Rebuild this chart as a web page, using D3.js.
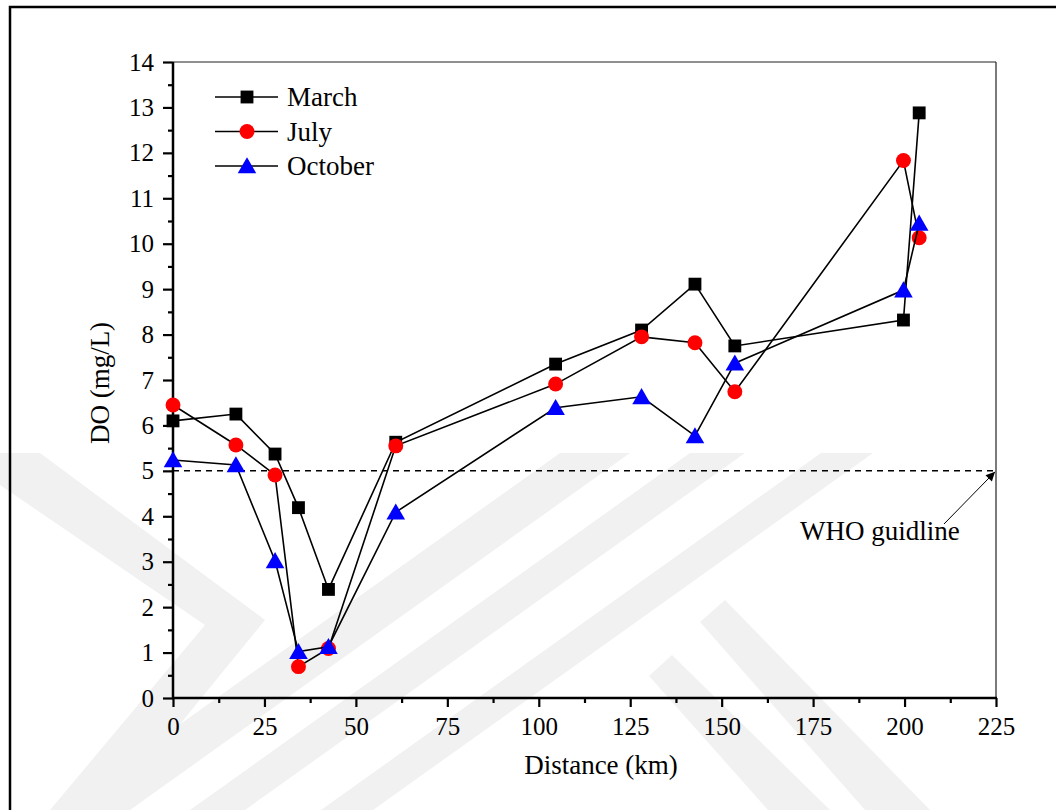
<!DOCTYPE html>
<html>
<head>
<meta charset="utf-8">
<script src="https://cdn.jsdelivr.net/npm/d3@7"></script>
<style>
  body { margin: 0; background: #fff; }
  svg { display: block; }
  svg text { font-family: "Liberation Serif", "Times New Roman", serif; fill: #000; }
</style>
</head>
<body>
<div id="chart"></div>
<script>
// Sampling stations along the river (km) and DO readings (mg/L)
const distance = [0, 17.2, 27.9, 34.3, 42.5, 60.9, 104.6, 128.1, 142.7, 153.6, 199.7, 204.0];
const march    = [6.10, 6.25, 5.37, 4.19, 2.39, 5.63, 7.35, 8.10, 9.11, 7.75, 8.32, 12.88];
const july     = [6.45, 5.57, 4.91, 0.69, 1.09, 5.55, 6.91, 7.95, 7.82, 6.74, 11.83, 10.13];
const october  = [5.24, 5.13, 3.02, 1.02, 1.13, 4.09, 6.39, 6.63, 5.77, 7.37, 8.98, 10.45];
const seriesNames = ['March', 'July', 'October'];
const xTicks = [0, 25, 50, 75, 100, 125, 150, 175, 200, 225];
const yTicks = [0, 1, 2, 3, 4, 5, 6, 7, 8, 9, 10, 11, 12, 13, 14];
const guideline = 5;

const width = 1056, height = 810;
const margin = { top: 62, right: 60, bottom: 112, left: 173 };

const svg = d3.select('#chart')
    .append('svg')
    .attr('width', width)
    .attr('height', height);

// faint background watermark bands
const wm = [
    [[40,453],[265,620],[110,810],[50,810],[205,625],[0,485],[0,453]],
    [[560,453],[630,453],[130,810],[60,810]],
    [[690,453],[745,453],[245,810],[190,810]],
    [[821,453],[873,453],[373,810],[321,810]],
    [[700,622],[725,600],[930,810],[865,810]],
    [[649,676],[672,655],[830,810],[768,810]]
];
svg.append('g')
    .selectAll('polygon')
    .data(wm)
    .enter()
    .append('polygon')
    .attr('points', d => d.map(p => p.join(',')).join(' '))
    .attr('fill', '#f1f1f1');

// outer frame
svg.append('rect')
    .attr('x', 10).attr('y', 7)
    .attr('width', 1100).attr('height', 900)
    .attr('fill', 'none')
    .attr('stroke', '#000')
    .attr('stroke-width', 2.5);

const x = d3.scaleLinear().domain([0, 225]).range([margin.left, width - margin.right]);
const y = d3.scaleLinear().domain([0, 14]).range([height - margin.bottom, margin.top]);

// top and right frame lines
svg.append('line')
    .attr('x1', x(0)).attr('x2', x(225))
    .attr('y1', y(14)).attr('y2', y(14))
    .attr('stroke', '#222').attr('stroke-width', 1.2);
svg.append('line')
    .attr('x1', x(225)).attr('x2', x(225))
    .attr('y1', y(14)).attr('y2', y(0))
    .attr('stroke', '#222').attr('stroke-width', 1.2);

// x axis
const xAxis = svg.append('g')
    .attr('transform', `translate(0,${y(0)})`)
    .call(d3.axisBottom(x).tickValues(xTicks).tickSize(9).tickPadding(10).tickFormat(d3.format('d')));
svg.append('g')
    .attr('transform', `translate(0,${y(0)})`)
    .call(d3.axisBottom(x).tickValues(d3.range(12.5, 225, 25)).tickSize(5).tickFormat(''))
    .call(g => g.select('.domain').remove());

// y axis
const yAxis = svg.append('g')
    .attr('transform', `translate(${x(0)},0)`)
    .call(d3.axisLeft(y).tickValues(yTicks).tickSize(10).tickPadding(9).tickFormat(d3.format('d')));
svg.append('g')
    .attr('transform', `translate(${x(0)},0)`)
    .call(d3.axisLeft(y).tickValues(d3.range(0.5, 14, 1)).tickSize(5).tickFormat(''))
    .call(g => g.select('.domain').remove());

svg.selectAll('.domain').attr('stroke-width', 2.5);
xAxis.select('.domain').attr('d', `M${x(0) - 1},0H${x(225) + 1}`);
yAxis.select('.domain').attr('d', `M0,${y(0) + 1}V${y(14)}`);
svg.selectAll('.tick line').attr('stroke-width', 2.2);
svg.selectAll('.tick text')
    .attr('font-family', '"Liberation Serif", serif')
    .attr('font-size', 25)
    .attr('fill', '#000');

// axis titles
svg.append('text')
    .attr('x', 601).attr('y', 774)
    .attr('text-anchor', 'middle')
    .attr('font-size', 27)
    .text('Distance (km)');
svg.append('text')
    .attr('transform', `translate(109,${383}) rotate(-90)`)
    .attr('text-anchor', 'middle')
    .attr('font-size', 27)
    .text('DO (mg/L)');

// WHO guideline
svg.append('line')
    .attr('x1', x(0)).attr('x2', x(225))
    .attr('y1', y(guideline)).attr('y2', y(guideline))
    .attr('stroke', '#000')
    .attr('stroke-width', 1.5)
    .attr('stroke-dasharray', '6,5');

svg.append('defs').append('marker')
    .attr('id', 'arrow')
    .attr('viewBox', '0 0 10 10')
    .attr('refX', 10).attr('refY', 5)
    .attr('markerWidth', 14).attr('markerHeight', 9)
    .attr('markerUnits', 'userSpaceOnUse')
    .attr('orient', 'auto')
    .append('path')
    .attr('d', 'M0,0L10,5L0,10Z')
    .attr('fill', '#000');

svg.append('line')
    .attr('x1', 944).attr('y1', 524)
    .attr('x2', x(225) - 1).attr('y2', y(guideline) + 1)
    .attr('stroke', '#000')
    .attr('stroke-width', 1)
    .attr('marker-end', 'url(#arrow)');

svg.append('text')
    .attr('x', 800).attr('y', 540)
    .attr('font-size', 27)
    .text('WHO guidline');

// series
const series = [
    { name: seriesNames[0], values: march, shape: d3.symbolSquare, size: 165, color: '#000' },
    { name: seriesNames[1], values: july, shape: d3.symbolCircle, size: 175, color: '#ff0000' },
    { name: seriesNames[2], values: october, shape: d3.symbolTriangle, size: 150, color: '#0000ff' }
];

const line = d3.line()
    .x(d => x(d[0]))
    .y(d => y(d[1]));

series.forEach(s => {
    const pts = distance.map((d, i) => [d, s.values[i]]);
    const g = svg.append('g');
    g.append('path')
        .datum(pts)
        .attr('d', line)
        .attr('fill', 'none')
        .attr('stroke', '#000')
        .attr('stroke-width', 1.6);
    g.selectAll('path.pt')
        .data(pts)
        .enter()
        .append('path')
        .attr('class', 'pt')
        .attr('d', d3.symbol().type(s.shape).size(s.size))
        .attr('transform', d => `translate(${x(d[0])},${y(d[1]) + (s.shape === d3.symbolTriangle ? 2 : 0)})`)
        .attr('fill', s.color);
});

// legend
const legend = svg.append('g')
    .attr('transform', 'translate(215,97)');

const rows = legend.selectAll('g')
    .data(series)
    .enter()
    .append('g')
    .attr('transform', (d, i) => `translate(0,${i * 34.5})`);

rows.append('line')
    .attr('x1', 0).attr('x2', 63)
    .attr('stroke', '#000')
    .attr('stroke-width', 1.6);
rows.append('path')
    .attr('d', d => d3.symbol().type(d.shape).size(d.size)())
    .attr('transform', d => `translate(32,${d.shape === d3.symbolTriangle ? 2 : 0})`)
    .attr('fill', d => d.color);
rows.append('text')
    .attr('x', 72).attr('y', 9)
    .attr('font-size', 27)
    .text(d => d.name);
</script>
</body>
</html>
